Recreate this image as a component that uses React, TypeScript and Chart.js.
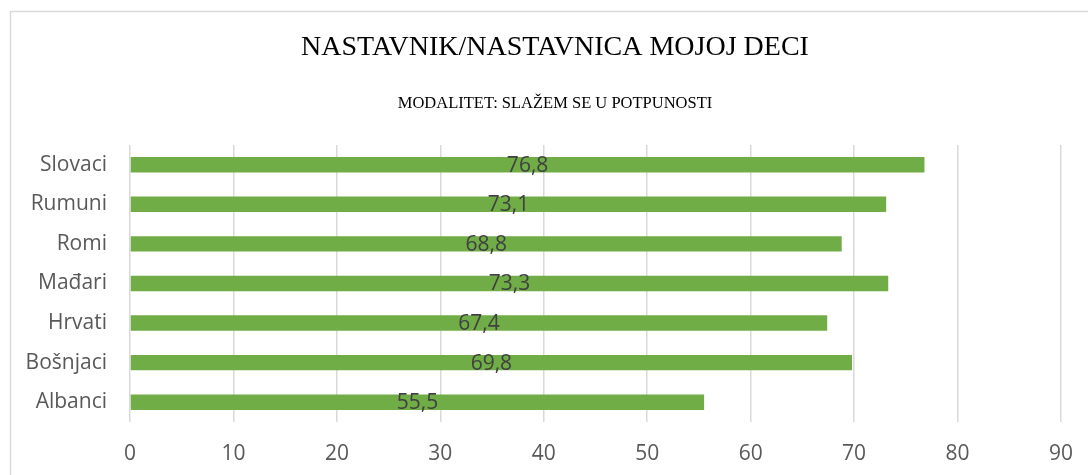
import React, { useEffect, useRef } from "react";
import { Chart, registerables } from "chart.js";

Chart.register(...registerables);

const categories = ["Slovaci", "Rumuni", "Romi", "Mađari", "Hrvati", "Bošnjaci", "Albanci"];
const values = [76.8, 73.1, 68.8, 73.3, 67.4, 69.8, 55.5];
const titleText = "NASTAVNIK/NASTAVNICA MOJOJ DECI";
const subtitleText = "MODALITET: SLAŽEM SE U POTPUNOSTI";
const axisMin = 0;
const axisMax = 90;
const axisStep = 10;

const framePlugin = {
  id: "frame",
  afterLayout(chart: any) {
    // let the category labels extend into the left padding without being clipped
    const y = chart.scales.y;
    if (y) y.left = 0;
  },
  beforeDraw(chart: any) {
    const ctx = chart.ctx;
    ctx.save();
    ctx.fillStyle = "#ffffff";
    ctx.fillRect(0, 0, chart.width, chart.height);
    ctx.strokeStyle = "#d9d9d9";
    ctx.lineWidth = 1.5;
    ctx.strokeRect(10.5, 11.5, chart.width - 21, chart.height + 20);
    ctx.restore();
  },
};

const labelPlugin = {
  id: "barLabels",
  afterDatasetsDraw(chart: any) {
    const ctx = chart.ctx;
    const meta = chart.getDatasetMeta(0);
    const data = chart.data.datasets[0].data as number[];
    ctx.save();
    ctx.font = "21px 'Open Sans'";
    ctx.fillStyle = "#404040";
    ctx.textAlign = "center";
    ctx.textBaseline = "middle";
    meta.data.forEach((bar: any, i: number) => {
      const x = (bar.base + bar.x) / 2;
      const y = bar.y + 1;
      ctx.fillText(data[i].toFixed(1).replace(".", ","), x, y);
    });
    ctx.restore();
  },
};

export default function App() {
  const ref = useRef<HTMLCanvasElement | null>(null);
  useEffect(() => {
    if (!ref.current) return;
    const chart = new Chart(ref.current, {
      type: "bar",
      data: {
        labels: categories,
        datasets: [
          {
            data: values,
            backgroundColor: "#70ad47",
            categoryPercentage: 1,
            barPercentage: 0.39,
          },
        ],
      },
      options: {
        indexAxis: "y",
        responsive: false,
        animation: false,
        layout: { padding: { left: 49, right: 49, top: 0, bottom: 9 } },
        plugins: {
          legend: { display: false },
          tooltip: { enabled: false },
          title: {
            display: true,
            text: titleText,
            color: "#000000",
            font: { family: "'Liberation Serif', 'Times New Roman', serif", size: 28, weight: "normal" },
            padding: { top: 31, bottom: 0 },
          },
          subtitle: {
            display: true,
            text: subtitleText,
            color: "#000000",
            font: { family: "'Liberation Serif', 'Times New Roman', serif", size: 16.5, weight: "normal" },
            padding: { top: 29.5, bottom: 31 },
          },
        },
        scales: {
          x: {
            min: axisMin,
            max: axisMax,
            ticks: {
              stepSize: axisStep,
              color: "#595959",
              font: { family: "'Open Sans'", size: 21 },
              padding: 19,
            },
            grid: { color: "#d9d9d9", lineWidth: 1.5, drawTicks: false },
            border: { display: false },
            afterFit(scale: any) {
              scale.height = 44;
            },
          },
          y: {
            ticks: {
              color: "#595959",
              font: { family: "'Open Sans'", size: 21 },
              padding: 23,
            },
            grid: { display: false, drawTicks: false },
            border: { display: false },
            afterFit(scale: any) {
              scale.width = 81;
            },
          },
        },
      },
      plugins: [framePlugin, labelPlugin],
    });
    return () => chart.destroy();
  }, []);

  return (
    <div
      style={{
        position: "fixed",
        left: 0,
        top: 0,
        width: 1088,
        height: 475,
        overflow: "hidden",
        background: "#ffffff",
      }}
    >
      <canvas ref={ref} width={1110} height={475} style={{ width: 1110, height: 475, display: "block" }} />
    </div>
  );
}
